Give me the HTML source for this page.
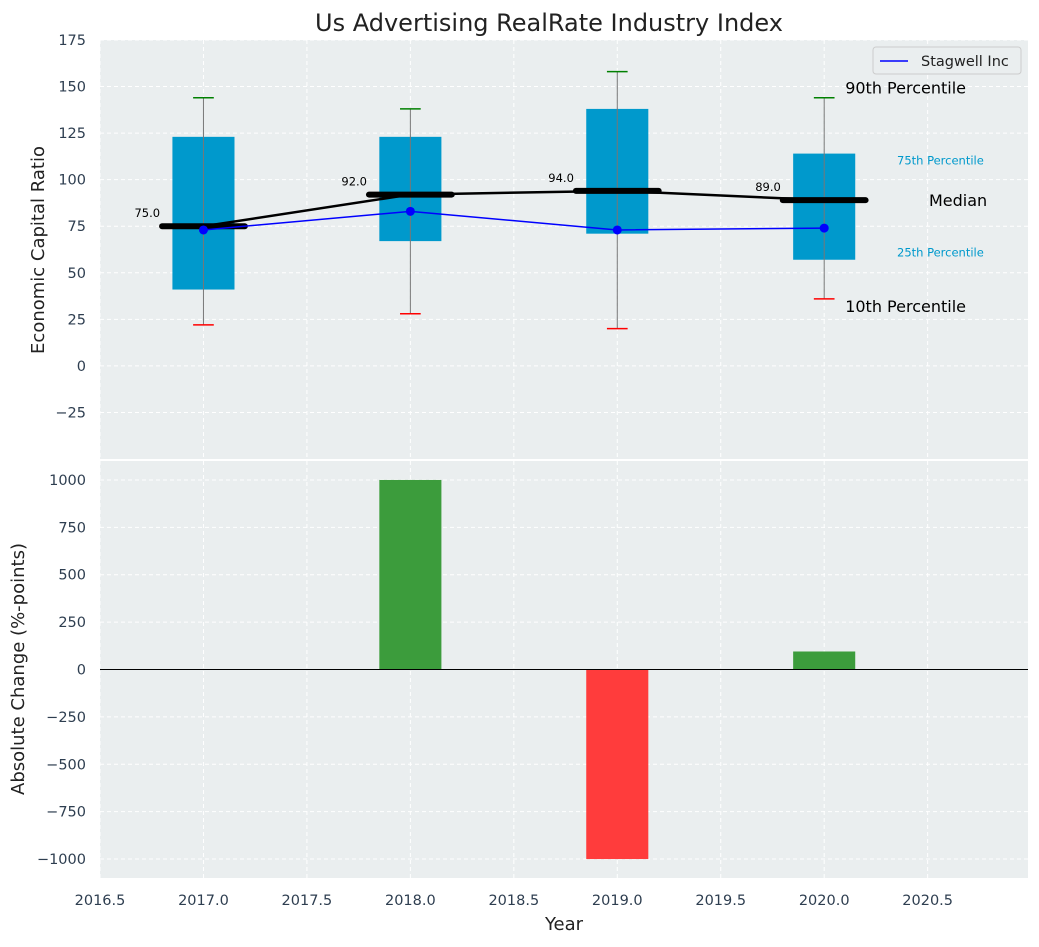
<!DOCTYPE html>
<html><head><meta charset="utf-8"><style>
body{margin:0;background:#fff;}
svg text{font-family:"DejaVu Sans","Liberation Sans",sans-serif;}
</style></head><body>
<svg id="c" width="1039" height="942" xmlns="http://www.w3.org/2000/svg"></svg>
<script>
const years=[2017,2018,2019,2020];
const q1=[41,67,71,57];
const q3=[123,123,138,114];
const medians=[75,92,94,89];
const p10=[22,28,20,36];
const p90=[144,138,158,144];
const company=[73,83,73,74];
const changes=[0,1000,-1000,95];
const topTicks=[-25,0,25,50,75,100,125,150,175];
const botTicks=[-1000,-750,-500,-250,0,250,500,750,1000];
const xTicks=[2016.5,2017,2017.5,2018,2018.5,2019,2019.5,2020,2020.5];

const L=100,R=1028,T1=40,B1=459,T2=461,B2=878;
const X=v=>L+(v-2016.5)/(2020.985-2016.5)*(R-L);
const Y1=v=>T1+(175-v)/225*(B1-T1);
const Y2=v=>T2+(1100-v)/2200*(B2-T2);
const s=document.getElementById('c');
function el(tag,a,txt){const e=document.createElementNS('http://www.w3.org/2000/svg',tag);for(const k in a)e.setAttribute(k,a[k]);if(txt!==undefined)e.textContent=txt;s.appendChild(e);return e;}
let e;
e=el('rect',{x:L,y:T1,width:R-L,height:B1-T1,fill:'#eaeeef'});


e=el('rect',{x:L,y:T2,width:R-L,height:B2-T2,fill:'#eaeeef'});


xTicks.forEach(t=>{
 el('line',{x1:X(t),x2:X(t),y1:T1,y2:B1,stroke:'#fff','stroke-dasharray':'4,3'});
 el('line',{x1:X(t),x2:X(t),y1:T2,y2:B2,stroke:'#fff','stroke-dasharray':'4,3'});
 e=el('text',{x:X(t),y:905,'text-anchor':'middle','font-size':14.5,fill:'#2e3e50'},t.toFixed(1));
 
 
});
topTicks.forEach(t=>{
 el('line',{x1:L,x2:R,y1:Y1(t),y2:Y1(t),stroke:'#fff','stroke-dasharray':'4,3'});
 e=el('text',{x:86,y:Y1(t)+5,'text-anchor':'end','font-size':14.5,fill:'#2e3e50'},t<0?'\u2212'+(-t):t);
 
 
});
botTicks.forEach(t=>{
 el('line',{x1:L,x2:R,y1:Y2(t),y2:Y2(t),stroke:'#fff','stroke-dasharray':'4,3'});
 e=el('text',{x:86,y:Y2(t)+5,'text-anchor':'end','font-size':14.5,fill:'#2e3e50'},t<0?'\u2212'+(-t):t);
 
 
});
years.forEach((yr,i)=>{
 const x=X(yr),hw=X(yr+0.15)-x,mw=X(yr+0.2)-x,cw=X(yr+0.05)-x;
 e=el('rect',{x:x-hw,y:Y1(q3[i]),width:2*hw,height:Y1(q1[i])-Y1(q3[i]),fill:'#0099cc'});
 
 
 e=el('line',{x1:x,x2:x,y1:Y1(p90[i]),y2:Y1(p10[i]),stroke:'#777','stroke-width':1});
 
 
 el('line',{x1:x-cw,x2:x+cw,y1:Y1(p90[i]),y2:Y1(p90[i]),stroke:'green','stroke-width':1.5});
 el('line',{x1:x-cw,x2:x+cw,y1:Y1(p10[i]),y2:Y1(p10[i]),stroke:'red','stroke-width':1.5});
 e=el('line',{x1:x-mw,x2:x+mw,y1:Y1(medians[i]),y2:Y1(medians[i]),stroke:'#000','stroke-width':6,'stroke-linecap':'round'});
 
 
 e=el('text',{x:x-mw-2,y:Y1(medians[i])-9,'text-anchor':'end','font-size':11.5,fill:'#000'},medians[i].toFixed(1));
 
 
});
e=el('polyline',{points:years.map((y,i)=>X(y)+','+Y1(medians[i])).join(' '),fill:'none',stroke:'#000','stroke-width':2.5});


e=el('polyline',{points:years.map((y,i)=>X(y)+','+Y1(company[i])).join(' '),fill:'none',stroke:'blue','stroke-width':1.5});


years.forEach((y,i)=>{e=el('circle',{cx:X(y),cy:Y1(company[i]),r:4.5,fill:'blue'});
 
 });
const lx=X(2020)+21;
e=el('text',{x:lx,y:Y1(p90[3])-4,'font-size':16,fill:'#000','font-family':'Liberation Sans'},'90th Percentile');

e=el('text',{x:lx,y:Y1(p10[3])+13,'font-size':16,fill:'#000','font-family':'Liberation Sans'},'10th Percentile');

e=el('text',{x:897,y:Y1(q3[3])+11,'font-size':11.5,fill:'#0099cc'},'75th Percentile');

e=el('text',{x:897,y:Y1(q1[3])-3,'font-size':11.5,fill:'#0099cc'},'25th Percentile');

e=el('text',{x:929,y:206,'font-size':16,fill:'#000','font-family':'Liberation Sans'},'Median');

e=el('rect',{x:873,y:47,width:148,height:27,fill:'#eaeeef',stroke:'#ccc',rx:3});

el('line',{x1:880,x2:908,y1:61,y2:61,stroke:'blue','stroke-width':1.5});
e=el('text',{x:921,y:66,'font-size':14.5,fill:'#222'},'Stagwell Inc');

years.forEach((yr,i)=>{const v=changes[i];if(!v)return;
 const x0=X(yr-0.15),x1=X(yr+0.15);
 e=el('rect',{x:x0,y:Math.min(Y2(0),Y2(v)),width:x1-x0,height:Math.abs(Y2(v)-Y2(0)),fill:v>0?'#3c9c3c':'#ff3c3c'});
 });
el('line',{x1:L,x2:R,y1:Y2(0),y2:Y2(0),stroke:'#000','stroke-width':1});
e=el('text',{x:549,y:31,'text-anchor':'middle','font-size':24,fill:'#222'},'Us Advertising RealRate Industry Index');

e=el('text',{x:564,y:930,'text-anchor':'middle','font-size':18,fill:'#222'},'Year');

e=el('text',{x:0,y:0,'text-anchor':'middle','font-size':18,fill:'#222',transform:'translate(44,250) rotate(-90)'},'Economic Capital Ratio');

e=el('text',{x:0,y:0,'text-anchor':'middle','font-size':18,fill:'#222',transform:'translate(24,669) rotate(-90)'},'Absolute Change (%-points)');

</script>
</body></html>
